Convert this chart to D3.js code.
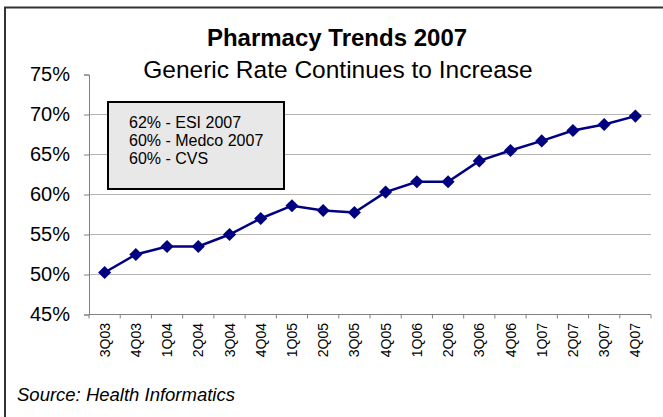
<!DOCTYPE html>
<html>
<meta charset="UTF-8" />
<script src="https://cdn.jsdelivr.net/npm/d3@7"></script>
<style>
*{margin:0; padding:0;}
body{background:#ffffff;}
text{font-family:Arial, "Liberation Sans", sans-serif;}
</style>
<body>
<div id="chart"></div>
<script>
// data
var quarters = ["3Q03","4Q03","1Q04","2Q04","3Q04","4Q04","1Q05","2Q05","3Q05",
	"4Q05","1Q06","2Q06","3Q06","4Q06","1Q07","2Q07","3Q07","4Q07"];
var genericRate = [50.25,52.5,53.5,53.5,55.0,57.0,58.6,58.0,57.75,
	60.3,61.6,61.6,64.2,65.5,66.7,68.0,68.75,69.8];
var yTicks = [45,50,55,60,65,70,75];
var noteLines = ["62% - ESI 2007","60% - Medco 2007","60% - CVS"];

var width = 663, height = 417;
var svg = d3.select("#chart").append("svg")
	.attr("width", width)
	.attr("height", height);

//frame (only top and left show in the crop)
svg.append("path")
	.attr("d","M5,420 L5,7.5 L670,7.5")
	.attr("fill","none")
	.attr("stroke","#333")
	.attr("stroke-width",2);

var x = d3.scaleBand().domain(quarters).range([89,651]);
var y = d3.scaleLinear().domain([45,75]).range([314.5,74.5]);

//grid
svg.selectAll(".grid").data(yTicks.filter(function(d){return d>45 && d<75;}))
	.enter().append("line")
	.attr("x1",89).attr("x2",651)
	.attr("y1",function(d){return y(d);}).attr("y2",function(d){return y(d);})
	.attr("stroke","#b4b4b4").attr("stroke-width",1);

//y axis
var yAxis = d3.axisLeft(y).tickValues(yTicks).tickSize(5).tickPadding(14)
	.tickFormat(function(d){return d+"%";});
var gy = svg.append("g").attr("transform","translate(89,0)").call(yAxis);
gy.select(".domain").attr("stroke","#808080");
gy.selectAll(".tick line").attr("stroke","#808080");
gy.selectAll("text").attr("font-size","20px").attr("fill","#000")
	.attr("font-family","Arial, 'Liberation Sans', sans-serif");

//x axis
var gx = svg.append("g").attr("transform","translate(0,314.5)");
gx.append("line").attr("x1",89).attr("x2",651)
	.attr("stroke","#808080");
gx.selectAll(".xt").data(quarters.concat(["end"])).enter().append("line")
	.attr("x1",function(d,i){return i<quarters.length ? x(d) : 651;})
	.attr("x2",function(d,i){return i<quarters.length ? x(d) : 651;})
	.attr("y1",0).attr("y2",4)
	.attr("stroke","#808080");
gx.selectAll(".xl").data(quarters).enter().append("text")
	.attr("transform",function(d){
		return "translate("+(x(d)+x.bandwidth()/2+5)+",8.5) rotate(-90)";
	})
	.attr("text-anchor","end")
	.attr("font-size","14px")
	.text(function(d){return d;});

//line + diamonds
var pts = quarters.map(function(q,i){return [x(q)+x.bandwidth()/2, y(genericRate[i])];});
svg.append("path")
	.attr("d", d3.line()(pts))
	.attr("fill","none")
	.attr("stroke","#000080")
	.attr("stroke-width",2.5);
svg.selectAll(".mk").data(pts).enter().append("path")
	.attr("d", d3.symbol().type(d3.symbolDiamond2).size(110)())
	.attr("transform",function(d){return "translate("+d[0]+","+d[1]+")";})
	.attr("fill","#000080");

//note box
svg.append("rect")
	.attr("x",108).attr("y",102).attr("width",176).attr("height",87)
	.attr("fill","#e8e8e8").attr("stroke","#000").attr("stroke-width",2);
svg.selectAll(".note").data(noteLines).enter().append("text")
	.attr("x",129).attr("y",function(d,i){return 128+i*18;})
	.attr("font-size","16px")
	.text(function(d){return d;});

//titles
svg.append("text").attr("x",337).attr("y",46)
	.attr("text-anchor","middle").attr("font-size","24px").attr("font-weight","bold")
	.text("Pharmacy Trends 2007");
svg.append("text").attr("x",338).attr("y",78)
	.attr("text-anchor","middle").attr("font-size","24.5px")
	.text("Generic Rate Continues to Increase");

svg.append("text").attr("x",17).attr("y",401)
	.attr("font-size","18.5px").attr("font-style","italic")
	.text("Source: Health Informatics");
</script>
</body>
</html>
